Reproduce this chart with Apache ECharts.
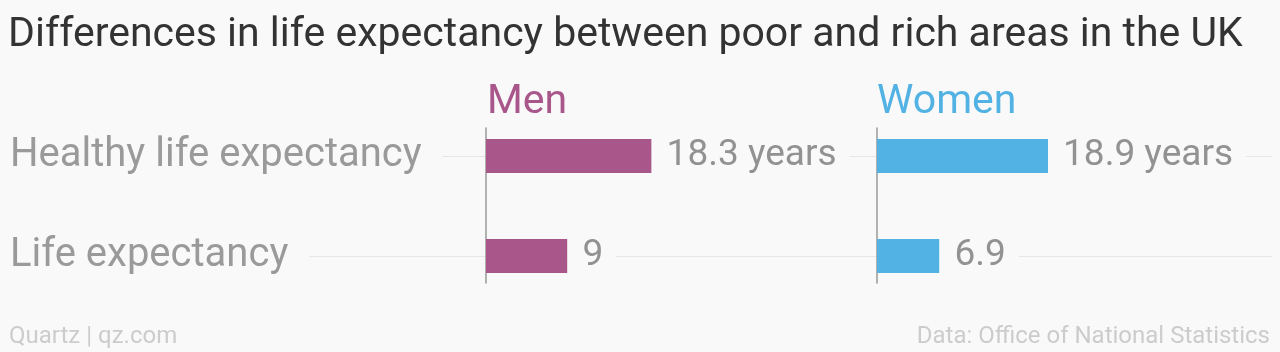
<!DOCTYPE html>
<html>
<head>
<meta charset="utf-8">
<script src="https://cdn.jsdelivr.net/npm/echarts@6/dist/echarts.min.js"></script>
<style>
  html, body { margin: 0; padding: 0; background: #f9f9f9; }
  #chart { width: 1280px; height: 352px; }
</style>
</head>
<body>
<div id="chart"></div>
<script>
// data
const categories = ['Healthy life expectancy', 'Life expectancy'];
const menValues = [18.3, 9];
const womenValues = [18.9, 6.9];
const panelNames = ['Men', 'Women'];

const BG = '#f9f9f9';
const FONT = 'Roboto, "Noto Sans", sans-serif';
const MEN_COLOR = '#a9568a';
const WOMEN_COLOR = '#52b2e3';

const chart = echarts.init(document.getElementById('chart'));

// value label: first row gets "years"
function fmt(p) {
  return p.dataIndex === 0 ? p.value + ' years' : String(p.value);
}

function barLabel() {
  return {
    show: true,
    position: 'right',
    distance: 0,
    formatter: fmt,
    fontFamily: FONT,
    fontSize: 37,
    color: '#929292',
    backgroundColor: BG,
    padding: [7, 13, 0, 15]
  };
}

const option = {
  backgroundColor: BG,
  animation: false,
  title: [
    {
      text: 'Differences in life expectancy between poor and rich areas in the UK',
      left: 8, top: 15, padding: 0,
      textStyle: { fontFamily: FONT, fontSize: 41, fontWeight: 'normal', color: '#333333' }
    },
    {
      text: panelNames[0], left: 487, top: 82, padding: 0,
      textStyle: { fontFamily: FONT, fontSize: 41, fontWeight: 'normal', color: MEN_COLOR }
    },
    {
      text: panelNames[1], left: 877, top: 82, padding: 0,
      textStyle: { fontFamily: FONT, fontSize: 41, fontWeight: 'normal', color: WOMEN_COLOR }
    },
    {
      text: 'Quartz | qz.com', left: 9, top: 325, padding: 0,
      textStyle: { fontFamily: FONT, fontSize: 24, fontWeight: 'normal', color: '#cccccc' }
    },
    {
      text: 'Data: Office of National Statistics', right: 10, top: 325, padding: 0,
      textStyle: { fontFamily: FONT, fontSize: 24, fontWeight: 'normal', color: '#cccccc' }
    }
  ],
  grid: [
    // row guide lines
    { left: 10, right: 8, top: 156, height: 100 },
    // men bars
    { left: 486, width: 362, top: 106, height: 200 },
    // women bars
    { left: 877, width: 362, top: 106, height: 200 },
    // men axis line
    { left: 486, width: 10, top: 128, height: 155 },
    // women axis line
    { left: 877, width: 10, top: 128, height: 155 }
  ],
  xAxis: [
    { gridIndex: 0, type: 'value', show: false },
    { gridIndex: 1, type: 'value', min: 0, max: 40, show: false },
    { gridIndex: 2, type: 'value', min: 0, max: 40, show: false },
    { gridIndex: 3, type: 'value', show: false },
    { gridIndex: 4, type: 'value', show: false }
  ],
  yAxis: [
    {
      gridIndex: 0, type: 'category', data: categories, inverse: true, boundaryGap: false,
      z: 0,
      axisLine: { show: false }, axisTick: { show: false }, axisLabel: { show: false },
      splitLine: { show: true, interval: 0, lineStyle: { color: '#e6e6e6', width: 1 } }
    },
    {
      gridIndex: 1, type: 'category', data: categories, inverse: true,
      z: 3,
      axisLine: { show: false }, axisTick: { show: false },
      axisLabel: {
        align: 'left', margin: 476,
        fontFamily: FONT, fontSize: 40, color: '#9a9a9a',
        backgroundColor: BG, padding: [8, 21, 0, 0]
      }
    },
    {
      gridIndex: 2, type: 'category', data: categories, inverse: true,
      axisLine: { show: false }, axisTick: { show: false }, axisLabel: { show: false }
    },
    {
      gridIndex: 3, type: 'value', z: 4,
      axisLine: { show: true, lineStyle: { color: '#999999', width: 1.5 } },
      axisTick: { show: false }, axisLabel: { show: false }, splitLine: { show: false }
    },
    {
      gridIndex: 4, type: 'value', z: 4,
      axisLine: { show: true, lineStyle: { color: '#999999', width: 1.5 } },
      axisTick: { show: false }, axisLabel: { show: false }, splitLine: { show: false }
    }
  ],
  series: [
    {
      name: 'Men', type: 'bar', xAxisIndex: 1, yAxisIndex: 1,
      data: menValues, barWidth: 34, z: 5,
      itemStyle: { color: MEN_COLOR },
      label: barLabel()
    },
    {
      name: 'Women', type: 'bar', xAxisIndex: 2, yAxisIndex: 2,
      data: womenValues, barWidth: 34, z: 5,
      itemStyle: { color: WOMEN_COLOR },
      label: barLabel()
    }
  ]
};

chart.setOption(option);
</script>
</body>
</html>
